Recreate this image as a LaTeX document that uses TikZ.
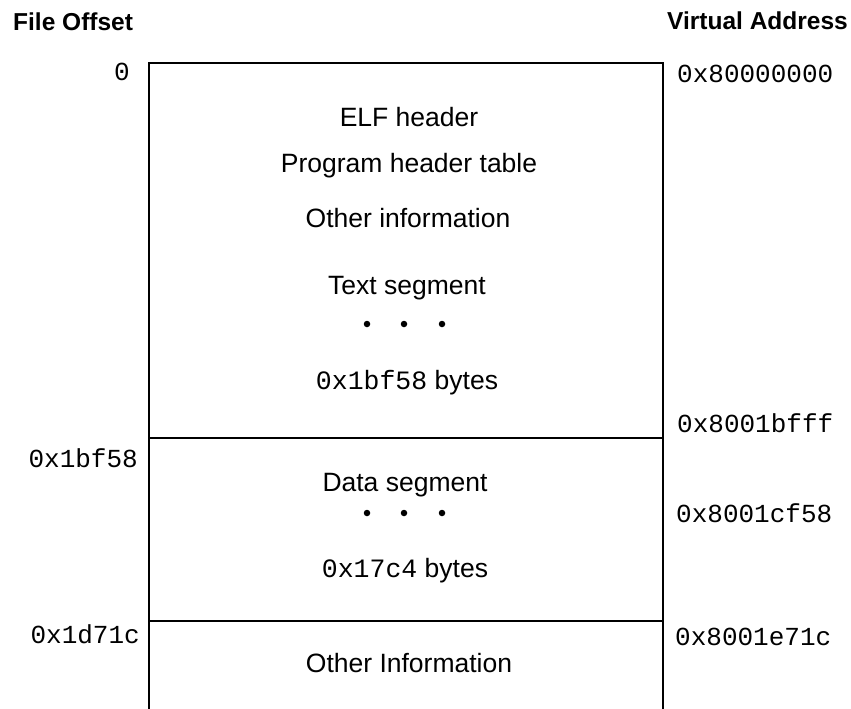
\documentclass[tikz,border=0pt]{standalone}
\usepackage{fontspec}
\setmainfont{Liberation Sans}
\setmonofont{Liberation Mono}
\begin{document}
\begin{tikzpicture}[x=1pt,y=-1pt,
  line/.style={line width=1.6pt,black},
  title/.style={inner sep=0pt,font=\fontsize{24.5}{28}\selectfont\bfseries},
  body/.style={inner sep=0pt,anchor=base,font=\fontsize{26.5}{30}\selectfont},
  addr/.style={inner sep=0pt,font=\fontsize{26}{30}\selectfont\ttfamily},
  dot/.style={circle,fill=black,inner sep=0pt,minimum size=6.5pt}]
\path[use as bounding box] (0,0) rectangle (851,709);
% box
\coordinate (tl) at (149,63);
\coordinate (tr) at (663,63);
\coordinate (bl) at (149,709);
\coordinate (br) at (663,709);
\draw[line] (bl) -- (tl) -- (tr) -- (br);
\draw[line] (149,438) -- (663,438);
\draw[line] (149,621) -- (663,621);
% titles
\node[title,anchor=base west] (fo) at (13,31) {File Offset};
\node[title,anchor=base east] (va) at (848,30) {Virtual Address};
% left offsets
\node[addr,anchor=base east] (o0) at (130,81) {0};
\node[addr,anchor=base east] (o1) at (138,467) {0x1bf58};
\node[addr,anchor=base east] (o2) at (140,643) {0x1d71c};
% right addresses
\node[addr,anchor=base west] (v0) at (677,82) {0x80000000};
\node[addr,anchor=base west] (v1) at (677,432) {0x8001bfff};
\node[addr,anchor=base west] (v2) at (676,522) {0x8001cf58};
\node[addr,anchor=base west] (v3) at (675,645) {0x8001e71c};
% text segment contents
\node[body] (elf) at (409,126) {ELF header};
\node[body] (pht) at (409,172) {Program header table};
\node[body] (oi) at (408,227) {Other information};
\node[body] (ts) at (407,294) {Text segment};
\node[dot] (d1) at (367,324) {};
\node[dot] (d2) at (404,324) {};
\node[dot] (d3) at (442,324) {};
\node[body] (tsb) at (407,389) {\texttt{0x1bf58} bytes};
% data segment contents
\node[body] (ds) at (405,491) {Data segment};
\node[dot] (e1) at (367,513) {};
\node[dot] (e2) at (404,513) {};
\node[dot] (e3) at (442,513) {};
\node[body] (dsb) at (405,577) {\texttt{0x17c4} bytes};
% other
\node[body] (oth) at (409,672) {Other Information};
\end{tikzpicture}
\end{document}
